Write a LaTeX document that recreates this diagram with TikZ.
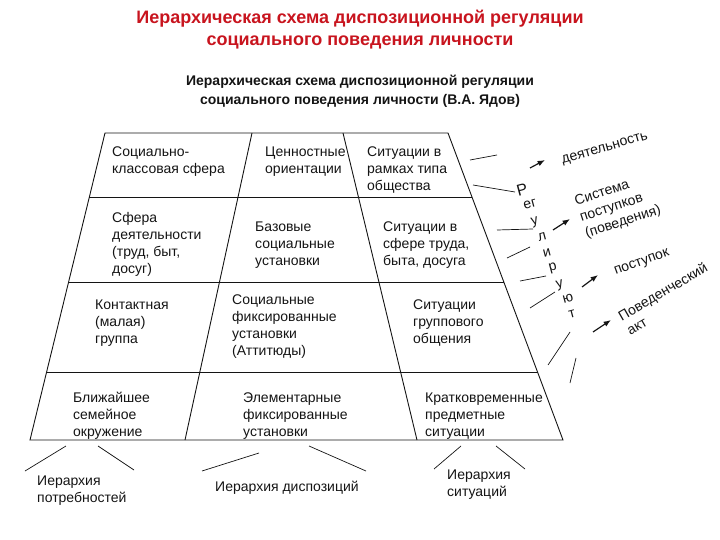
\documentclass[tikz,border=0pt]{standalone}
\usepackage{fontspec}
\setmainfont{Liberation Sans}
\usetikzlibrary{arrows.meta,calc}
\definecolor{hierInk}{HTML}{141414}
\definecolor{hierRed}{HTML}{C8141E}
\tikzset{
  every picture/.style={text=hierInk},
  hier title/.style={anchor=north, align=center, inner sep=0pt,
    font=\bfseries\fontsize{18}{22}\selectfont, text=hierRed},
  hier subtitle/.style={anchor=north, align=center, inner sep=0pt,
    font=\bfseries\fontsize{14}{18.5}\selectfont},
  hier text/.style={anchor=north west, align=left, inner sep=0pt,
    font=\fontsize{14}{17}\selectfont},
  hier label/.style={align=left, inner sep=0pt,
    font=\fontsize{14}{17}\selectfont},
  hier letter/.style={inner sep=0pt, rotate=15,
    font=\fontsize{14}{17}\selectfont},
  hier frame/.style={draw=hierInk, line width=0.9pt},
  hier stroke/.style={draw=hierInk, line width=0.7pt},
  hier arrow/.style={-{Latex[length=2.6mm,width=2mm]},
    draw=hierInk, line width=1.2pt}
}

\begin{document}
\begin{tikzpicture}[x=1pt,y=-1pt]
  \useasboundingbox (0,0) rectangle (720,540);
  \node[hier title] (title) at (360,10)
    {Иерархическая схема диспозиционной регуляции\\социального поведения личности};
  \node[hier subtitle] (subtitle) at (360,75)
    {Иерархическая схема диспозиционной регуляции\\социального поведения личности (В.А. Ядов)};

  % pyramid
  \coordinate (tl) at (105,133);
  \coordinate (tr) at (448,133);
  \coordinate (br) at (563,440);
  \coordinate (bl) at (30,440);
  \draw[hier frame] (tl) -- (tr) -- (br) -- (bl) -- cycle;
  \foreach \t in {0.2085,0.4853,0.7785}
    \draw[hier frame] ($(tl)!\t!(bl)$) -- ($(tr)!\t!(br)$);
  \draw[hier frame] (252,133) -- (185,440);
  \draw[hier frame] (343,133) -- (417,440);

  \node[hier text] (sphere) at (112,147) {Социально-\\классовая сфера};
  \node[hier text] (values) at (265,147) {Ценностные\\ориентации};
  \node[hier text] (society) at (367,147) {Ситуации в\\рамках типа\\общества};
  \node[hier text] (activity) at (112,212) {Сфера\\деятельности\\(труд, быт,\\досуг)};
  \node[hier text] (basic) at (255,222) {Базовые\\социальные\\установки};
  \node[hier text] (labour) at (383,222) {Ситуации в\\сфере труда,\\быта, досуга};
  \node[hier text] (group) at (95,300) {Контактная\\(малая)\\группа};
  \node[hier text] (attitudes) at (232,295) {Социальные\\фиксированные\\установки\\(Аттитюды)};
  \node[hier text] (groupsit) at (413,300) {Ситуации\\группового\\общения};
  \node[hier text] (family) at (73,392) {Ближайшее\\семейное\\окружение};
  \node[hier text] (elementary) at (243,393) {Элементарные\\фиксированные\\установки};
  \node[hier text] (shortsit) at (425,393) {Кратковременные\\предметные\\ситуации};

  % hierarchies below
  \draw[hier stroke] (25,471) -- (66,446);
  \draw[hier stroke] (98,446) -- (134,470);
  \draw[hier stroke] (202,471) -- (259,453);
  \draw[hier stroke] (309,446) -- (366,471);
  \draw[hier stroke] (434,469) -- (461,446);
  \draw[hier stroke] (496,446) -- (525,469);
  \node[hier text] (needs) at (37,476) {Иерархия\\потребностей};
  \node[hier text] (dispositions) at (215,481) {Иерархия диспозиций};
  \node[hier text] (situations) at (447,470) {Иерархия\\ситуаций};

  % regulation
  \draw[hier stroke] (470,160) -- (497,155);
  \draw[hier stroke] (473,185) -- (515,192);
  \draw[hier stroke] (497,230) -- (533,229);
  \draw[hier stroke] (507,258) -- (530,247);
  \draw[hier stroke] (520,281) -- (546,276);
  \draw[hier stroke] (530,308) -- (555,292);
  \draw[hier stroke] (548,365) -- (570,332);
  \draw[hier stroke] (570,383) -- (576,358);
  \node[hier letter, font=\fontsize{16}{17}\selectfont] (r1) at (522,190) {Р};
  \node[hier letter] (r2) at (530,204) {ег};
  \node[hier letter] (r3) at (535,222) {у};
  \node[hier letter] (r4) at (542,237) {л};
  \node[hier letter] (r5) at (547,253) {и};
  \node[hier letter] (r6) at (553,268) {р};
  \node[hier letter] (r7) at (560,285) {у};
  \node[hier letter] (r8) at (568,299) {ю};
  \node[hier letter] (r9) at (572,314) {т};

  \draw[hier arrow] (530,168) -- (545,160);
  \draw[hier arrow] (553,230) -- (570,219);
  \draw[hier arrow] (582,287) -- (598,275);
  \draw[hier arrow] (593,332) -- (611,320);
  \node[hier label, rotate=16] (deed) at (605,149) {деятельность};
  \node[hier label, rotate=18] (system) at (618,206) {Система\\поступков\\(поведения)};
  \node[hier label, rotate=20] (act) at (642,263) {поступок};
  \node[hier label, rotate=30] (behav) at (667,299) {Поведенческий\\акт};
\end{tikzpicture}
\end{document}
